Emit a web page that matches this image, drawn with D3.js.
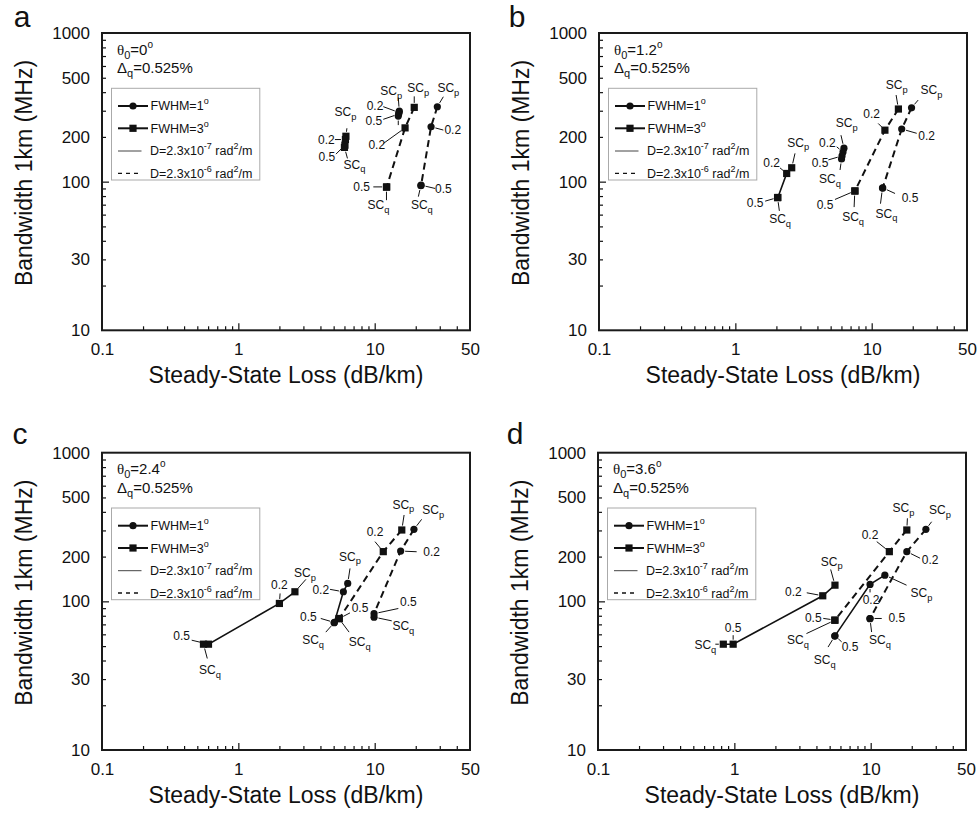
<!DOCTYPE html>
<html>
<head>
<meta charset="utf-8">
<script src="https://cdn.jsdelivr.net/npm/d3@7"></script>
<style>
  body { margin: 0; background: #fff; }
  svg text { font-family: "Liberation Sans", Arial, sans-serif; fill: #111; }
</style>
</head>
<body>
<svg id="fig" width="977" height="819"></svg>
<script>
// ---------------- data ----------------
const panelIds = ["a", "b", "c", "d"];
const theta0Values = ["0", "1.2", "2.4", "3.6"];
const deltaQValue = "0.525%";
const pointNames = ["SCp", "0.2", "0.5", "SCq"];
const xTickValues = [0.1, 1, 10, 50];
const yTickValues = [10, 30, 100, 200, 500, 1000];
const xMinorTicks = [0.2, 0.3, 0.4, 0.5, 0.6, 0.7, 0.8, 0.9, 2, 3, 4, 5, 6, 7, 8, 9, 20, 30, 40];
const xMajorTicks = [1, 10];
const yMinorTicks = [20, 30, 40, 50, 60, 70, 80, 90, 200, 300, 400, 500, 600, 700, 800, 900];
const yMajorTicks = [100];
const xTitle = "Steady-State Loss (dB/km)";
const yTitle = "Bandwidth 1km (MHz)";
const fwhmLabels = ["FWHM=1", "FWHM=3"];
const dLabels = [["D=2.3x10", "-7"], ["D=2.3x10", "-6"]];

// steady-state loss (dB/km) and bandwidth (MHz) at SCp, 0.2, 0.5, SCq
// panel a (theta0 = 0 deg)
const lossA_f1_D7 = [15.15, 15.07, 14.99, 14.89];
const bwA_f1_D7   = [298, 292, 285, 276];
const lossA_f3_D7 = [6.15, 6.1, 6.05, 6.0];
const bwA_f3_D7   = [202, 192, 176, 170];
const lossA_f1_D6 = [28.8, 25.9, 21.9, 21.8];
const bwA_f1_D6   = [319, 234, 94.7, 94.0];
const lossA_f3_D6 = [19.5, 16.7, 12.25, 12.2];
const bwA_f3_D6   = [316, 230, 92.2, 91.8];
// panel b (theta0 = 1.2 deg)
const lossB_f1_D7 = [6.26, 6.16, 6.06, 6.01];
const bwB_f1_D7   = [168, 158, 149, 142];
const lossB_f3_D7 = [2.59, 2.38, 2.05, 2.04];
const bwB_f3_D7   = [124, 113.5, 78.3, 78.0];
const lossB_f1_D6 = [19.6, 16.6, 12.05, 12.0];
const bwB_f1_D6   = [314, 226, 90.8, 90.5];
const lossB_f3_D6 = [15.7, 12.5, 7.54, 7.52];
const bwB_f3_D6   = [308, 222, 86.7, 86.4];
// panel c (theta0 = 2.4 deg)
const lossC_f1_D7 = [6.34, 5.89, 5.06, 5.04];
const bwC_f1_D7   = [132, 116, 72.1, 71.8];
const lossC_f3_D7 = [2.60, 2.00, 0.604, 0.555];
const bwC_f3_D7   = [116, 96.8, 51.5, 51.5];
const lossC_f1_D6 = [19.4, 15.5, 9.89, 9.89];
const bwC_f1_D6   = [305, 218, 82.6, 78.3];
const lossC_f3_D6 = [15.8, 11.56, 5.50, 5.48];
const bwC_f3_D6   = [302, 216, 76.7, 76.4];
// panel d (theta0 = 3.6 deg)
const lossD_f1_D7 = [12.7, 9.89, 5.47, 5.45];
const bwD_f1_D7   = [150, 130, 58.6, 58.4];
const lossD_f3_D7 = [5.47, 4.45, 0.98, 0.83];
const bwD_f3_D7   = [128.5, 109, 51.5, 51.5];
const lossD_f1_D6 = [25.4, 18.4, 9.89, 9.87];
const bwD_f1_D6   = [305, 216, 76.7, 76.5];
const lossD_f3_D6 = [18.4, 13.7, 5.47, 5.45];
const bwD_f3_D6   = [302, 216, 74.8, 74.6];

// ---------------- annotation layout ----------------
// per point: [text dx, text dy, leader start dx, leader start dy, hide text]
const labA_f1_D7 = [[-8, -20, -1, -13.5], [-24, -6, -15.7, -5.8], [-24.7, 6.7, -15.4, 5.3], [0, 0, 0, 9, true]];
const labA_f3_D7 = [[-0.5, -24, 1, -8], [-19, 0.5, -10.5, 0], [-18, 12, -9, 9], [10, 17.5, 3, 11]];
const labA_f1_D6 = [[11, -18.4, 6, -10], [21.7, 3.3, 12.3, 3.3], [22.3, 4.3, 14, 3.3], [1, 19.5, -2.5, 11]];
const labA_f3_D6 = [[4, -19.3, 0, -11], [-28.3, 17.3, -21.7, 15.6], [-25, 0, -13.4, 0], [-8, 18, 0, 13]];

const labB_f1_D7 = [[2.7, -24.7, -3, -13], [-15.7, -8.7, -6.3, -5.3], [-22, 6.7, -13.7, 4], [-11.5, 20.3, -1.5, 11]];
const labB_f3_D7 = [[6.6, -25, 3.3, -14.4], [-15, -10.6, -6.7, -5.6], [-22.7, 5.4, -12.7, 3.7], [2.5, 21.8, 1.8, 13.2]];
const labB_f1_D6 = [[20, -17.7, 6.6, -7.7], [25, 7, 15, 4.3], [27.3, 10.6, 12.3, 5.6], [4, 25.6, -2, 15.6]];
const labB_f3_D6 = [[-1.6, -24, -2.3, -14], [-13.3, -15.7, -6.7, -6.7], [-30, 14.3, -20, 8.6], [-1.7, 26, -0.7, 16]];

const labC_f1_D7 = [[2.3, -26.6, 2.3, -15], [-22.6, -1.7, -13.3, -2.4], [-26, -5.6, -13.6, -4], [-21, 17.7, -8.3, 9.4]];
const labC_f3_D7 = [[10, -18.4, 11, -12.4], [0, -18.3, 0.7, -10], [-26.8, -8, -16.8, -4], [6.5, 26, 3.8, 14.3]];
const labC_f1_D6 = [[19.3, -19.3, 7.7, -10], [31, 0.7, 16, 0.7], [34.3, -11.8, 24.3, -5.2], [29.3, 9, 17.7, 3.7]];
const labC_f3_D6 = [[1.6, -25, 2.3, -15], [-8.3, -20, -8.3, -10], [20.7, -10, 10.7, -5.6], [20.7, 23.4, 10, 13.4]];

const labD_f1_D7 = [[36.7, 18.3, 21.7, 10], [1, 16, 0, 8], [15, 11, 6.7, 6], [-10, 24.3, -6.7, 11]];
const labD_f3_D7 = [[-3.3, -23.3, -4.3, -15.7], [-29.4, -4, -16, -3], [0, -15.7, 0, -9], [-18, 1, -8, 0]];
const labD_f1_D6 = [[14, -19.3, 5.7, -7.6], [23.3, 8.3, 13.3, 6.6], [26.7, 0, 11.7, 0], [10, 21.7, 1.7, 13.4]];
const labD_f3_D6 = [[-3.4, -21.7, 0.6, -11.7], [-19.3, -16.7, -12.6, -10], [-21.7, -1.7, -11.7, -1.7], [-36.7, 20, -28.3, 13.3]];

// series table: marker (circle = FWHM 1 deg, square = FWHM 3 deg), line (solid = D 2.3e-7, dashed = D 2.3e-6)
const panelSeries = [
  [
    { marker: "square", dash: true,  loss: lossA_f3_D6, bw: bwA_f3_D6, lab: labA_f3_D6 },
    { marker: "circle", dash: true,  loss: lossA_f1_D6, bw: bwA_f1_D6, lab: labA_f1_D6 },
    { marker: "square", dash: false, loss: lossA_f3_D7, bw: bwA_f3_D7, lab: labA_f3_D7 },
    { marker: "circle", dash: false, loss: lossA_f1_D7, bw: bwA_f1_D7, lab: labA_f1_D7 }
  ],
  [
    { marker: "square", dash: true,  loss: lossB_f3_D6, bw: bwB_f3_D6, lab: labB_f3_D6 },
    { marker: "circle", dash: true,  loss: lossB_f1_D6, bw: bwB_f1_D6, lab: labB_f1_D6 },
    { marker: "square", dash: false, loss: lossB_f3_D7, bw: bwB_f3_D7, lab: labB_f3_D7 },
    { marker: "circle", dash: false, loss: lossB_f1_D7, bw: bwB_f1_D7, lab: labB_f1_D7 }
  ],
  [
    { marker: "square", dash: true,  loss: lossC_f3_D6, bw: bwC_f3_D6, lab: labC_f3_D6 },
    { marker: "circle", dash: true,  loss: lossC_f1_D6, bw: bwC_f1_D6, lab: labC_f1_D6 },
    { marker: "square", dash: false, loss: lossC_f3_D7, bw: bwC_f3_D7, lab: labC_f3_D7 },
    { marker: "circle", dash: false, loss: lossC_f1_D7, bw: bwC_f1_D7, lab: labC_f1_D7 }
  ],
  [
    { marker: "square", dash: true,  loss: lossD_f3_D6, bw: bwD_f3_D6, lab: labD_f3_D6 },
    { marker: "circle", dash: true,  loss: lossD_f1_D6, bw: bwD_f1_D6, lab: labD_f1_D6 },
    { marker: "square", dash: false, loss: lossD_f3_D7, bw: bwD_f3_D7, lab: labD_f3_D7 },
    { marker: "circle", dash: false, loss: lossD_f1_D7, bw: bwD_f1_D7, lab: labD_f1_D7 }
  ]
];

// ---------------- layout ----------------
const W = 368, H = 297.3;
const panelOrigins = [[102, 33], [599, 33], [102, 452.7], [598, 452.7]];
const letterPos = [[22, 27], [517, 27], [20, 444], [515, 444]];
const INK = "#111";
const MARKER_R = 3.6, SQUARE = 7.2;

const svg = d3.select("#fig");

function drawMarker(sel, kind, cx, cy) {
  if (kind === "circle") {
    sel.append("circle").attr("cx", cx).attr("cy", cy).attr("r", MARKER_R).attr("fill", INK);
  } else {
    sel.append("rect").attr("x", cx - SQUARE / 2).attr("y", cy - SQUARE / 2)
      .attr("width", SQUARE).attr("height", SQUARE).attr("fill", INK);
  }
}

// "SCp"/"SCq" get a subscript letter, numbers are plain
function labelText(t, name, size) {
  if (name.startsWith("SC")) {
    t.append("tspan").text("SC");
    t.append("tspan").attr("dy", 3.5).attr("font-size", size * 0.78).text(name.slice(2));
  } else {
    t.text(name);
  }
}

panelIds.forEach((id, pi) => {
  const [ox, oy] = panelOrigins[pi];
  const g = svg.append("g").attr("transform", `translate(${ox},${oy})`);
  const x = d3.scaleLog().domain([0.1, 50]).range([0, W]);
  const y = d3.scaleLog().domain([10, 1000]).range([H, 0]);

  // inward tick marks
  const tickAxis = (axis, vals, size, tr) => {
    g.append("g").attr("transform", tr)
      .call(axis.tickValues(vals).tickSize(size).tickFormat(""))
      .call(a => a.select(".domain").remove())
      .call(a => a.selectAll("line").attr("stroke", INK).attr("stroke-width", 1.2));
  };
  tickAxis(d3.axisBottom(x), xMinorTicks, -4, `translate(0,${H})`);
  tickAxis(d3.axisBottom(x), xMajorTicks, -7, `translate(0,${H})`);
  tickAxis(d3.axisLeft(y), yMinorTicks, -4, "translate(0,0)");
  tickAxis(d3.axisLeft(y), yMajorTicks, -7, "translate(0,0)");

  // tick labels
  g.append("g").attr("transform", `translate(0,${H})`)
    .call(d3.axisBottom(x).tickValues(xTickValues).tickSize(0).tickPadding(13).tickFormat(d3.format("~g")))
    .call(a => a.select(".domain").remove())
    .attr("font-size", 17).attr("font-family", null);
  g.append("g")
    .call(d3.axisLeft(y).tickValues(yTickValues).tickSize(0).tickPadding(12).tickFormat(d3.format("~g")))
    .call(a => a.select(".domain").remove())
    .attr("font-size", 17).attr("font-family", null);

  // axis titles
  g.append("text").attr("x", W / 2).attr("y", H + 53).attr("text-anchor", "middle")
    .attr("font-size", 23).text(xTitle);
  g.append("text").attr("transform", `translate(-70,${140}) rotate(-90)`)
    .attr("text-anchor", "middle").attr("font-size", 23).text(yTitle);

  // panel letter
  svg.append("text").attr("x", letterPos[pi][0]).attr("y", letterPos[pi][1])
    .attr("text-anchor", "middle").attr("font-size", 30).text(id);

  // theta0 / delta_q annotation
  const t1 = g.append("text").attr("x", 15).attr("y", 21.7).attr("font-size", 15);
  t1.append("tspan").attr("font-family", "'Liberation Serif', serif").text("θ");
  t1.append("tspan").attr("dy", 4).attr("font-size", 11).text("0");
  t1.append("tspan").attr("dy", -4).text("=" + theta0Values[pi]);
  t1.append("tspan").attr("dy", -7).attr("font-size", 10).text("o");
  const t2 = g.append("text").attr("x", 15).attr("y", 40).attr("font-size", 15);
  t2.append("tspan").text("Δ");
  t2.append("tspan").attr("dy", 4).attr("font-size", 11).text("q");
  t2.append("tspan").attr("dy", -4).text("=" + deltaQValue);

  // legend
  const lg = g.append("g").attr("transform", "translate(9.5,55.3)");
  lg.append("rect").attr("width", 148.3).attr("height", 91.7).attr("fill", "#fff")
    .attr("stroke", "#aaa").attr("stroke-width", 1);
  const rowY = [17.7, 40, 62.7, 85];
  ["circle", "square"].forEach((kind, k) => {
    lg.append("line").attr("x1", 6.5).attr("x2", 36.5).attr("y1", rowY[k]).attr("y2", rowY[k])
      .attr("stroke", INK).attr("stroke-width", 2);
    drawMarker(lg, kind, 21.5, rowY[k]);
    const t = lg.append("text").attr("x", 39).attr("y", rowY[k] + 4.5).attr("font-size", 12.5);
    t.append("tspan").text(fwhmLabels[k]);
    t.append("tspan").attr("dy", -6).attr("font-size", 9).text("o");
  });
  [false, true].forEach((dashed, k) => {
    const yy = rowY[2 + k];
    lg.append("line").attr("x1", 6.5).attr("x2", 30).attr("y1", yy).attr("y2", yy)
      .attr("stroke", dashed ? INK : "#444").attr("stroke-width", dashed ? 1.3 : 1)
      .attr("stroke-dasharray", dashed ? "4,4" : null);
    const t = lg.append("text").attr("x", 38.5).attr("y", yy + 4.5).attr("font-size", 12.5);
    t.append("tspan").text(dLabels[k][0]);
    t.append("tspan").attr("dy", -6).attr("font-size", 9).text(dLabels[k][1]);
    t.append("tspan").attr("dy", 6).text(" rad");
    t.append("tspan").attr("dy", -6).attr("font-size", 9).text("2");
    t.append("tspan").attr("dy", 6).text("/m");
  });

  // data lines
  const series = panelSeries[pi];
  const line = d3.line().x(d => x(d[0])).y(d => y(d[1]));
  series.forEach(s => {
    const pts = s.loss.map((v, i) => [v, s.bw[i]]);
    g.append("path").attr("d", line(pts)).attr("fill", "none").attr("stroke", INK)
      .attr("stroke-width", s.dash ? 2 : 1.6)
      .attr("stroke-dasharray", s.dash ? "7,4.5" : null);
  });

  // leaders, markers, point labels
  series.forEach(s => {
    s.loss.forEach((v, i) => {
      const px = x(v), py = y(s.bw[i]);
      const [tx, ty, lx, ly, hide] = s.lab[i];
      const len = Math.hypot(lx, ly);
      const r = 4.5;
      if (len > r) {
        g.append("line").attr("x1", px + lx).attr("y1", py + ly)
          .attr("x2", px + lx * r / len).attr("y2", py + ly * r / len)
          .attr("stroke", INK).attr("stroke-width", 1);
      }
      if (!hide) {
        const t = g.append("text").attr("x", px + tx).attr("y", py + ty + 4)
          .attr("text-anchor", "middle").attr("font-size", 12);
        labelText(t, pointNames[i], 12);
      }
    });
  });
  series.forEach(s => {
    s.loss.forEach((v, i) => drawMarker(g, s.marker, x(v), y(s.bw[i])));
  });

  // plot frame
  g.append("rect").attr("width", W).attr("height", H).attr("fill", "none")
    .attr("stroke", "#1a1a1a").attr("stroke-width", 2);
});
</script>
</body>
</html>
